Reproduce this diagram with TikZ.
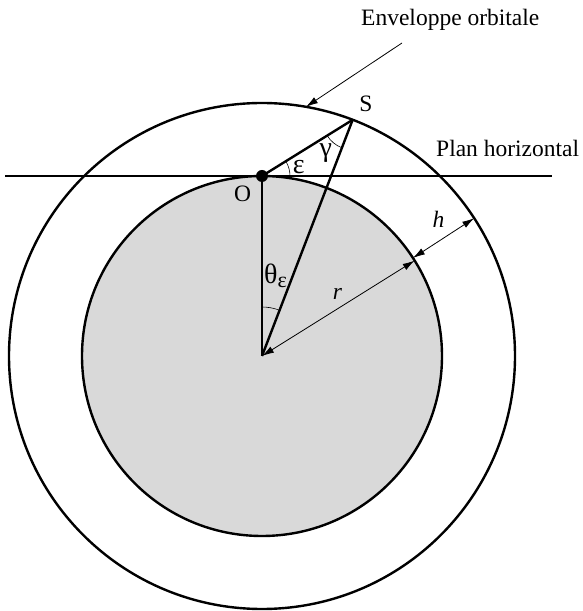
\documentclass[tikz,border=0pt]{standalone}
\usepackage{fontspec}
\setmainfont{Liberation Serif}
\usetikzlibrary{arrows.meta,angles,calc}
\definecolor{earth}{HTML}{D9D9D9}
\tikzset{
  thick line/.style={line width=2.4pt},
  thin arrow/.style={line width=0.8pt,-{Latex[length=12pt,width=7pt]}},
  dbl arrow/.style={line width=0.8pt,{Latex[length=12pt,width=7pt]}-{Latex[length=12pt,width=7pt]}},
  lbl/.style={font=\fontsize{23.5}{26}\selectfont,inner sep=0pt},
  greek/.style={font=\fontsize{28}{30}\selectfont,inner sep=0pt},
}
\begin{document}
\begin{tikzpicture}[x=1pt,y=1pt]
\useasboundingbox (0,0) rectangle (583,611);
\coordinate (C) at (262,255);
\coordinate (O) at (262,435);
\coordinate (S) at ($(C)+(69:253)$);
\coordinate (HL) at (5,435);
\coordinate (HR) at (552,435);
\coordinate (EA) at ($(C)+(80:253)$);
\coordinate (ES) at (402,568);
\coordinate (RI) at ($(C)+(32:180)$);
\coordinate (HI) at ($(C)+(33:180)$);
\coordinate (HO) at ($(C)+(33:253)$);
% earth and orbit
\draw[thick line,fill=earth] (C) circle[radius=180];
\draw[thick line] (C) circle[radius=253];
% horizontal plane
\draw[line width=1.6pt] (HL) -- (HR);
% triangle
\draw[thick line] (O) -- (C);
\draw[thick line] (O) -- (S);
\draw[thick line] (S) -- (C);
\fill (O) circle[radius=6];
% angles
\pic[draw,line width=0.6pt,angle radius=28] {angle = HR--O--S};
\pic[draw,line width=0.6pt,angle radius=30] {angle = O--S--C};
\pic[draw,line width=0.6pt,angle radius=49] {angle = S--C--O};
% arrows
\draw[dbl arrow] (C) -- (RI);
\draw[dbl arrow] (HI) -- (HO);
\draw[thin arrow] (ES) -- (EA);
% labels
\node[lbl,anchor=base west] (tEnv) at (361,585) {Enveloppe orbitale};
\node[lbl,anchor=base west] (tPlan) at (436,454.3) {Plan horizontal};
\node[lbl,anchor=base] (tS) at (366,499.5) {S};
\node[lbl,anchor=base] (tO) at (242.7,409.3) {O};
\node[greek,anchor=base] (tEps) at (298.7,437.7) {ε};
\node[greek,anchor=base] (tGam) at (325.7,454) {γ};
\node[greek,anchor=base west] (tTh) at (264,327) {θ\raisebox{-0.3ex}{\fontsize{22}{24}\selectfont ε}};
\node[lbl,anchor=base] (tR) at (337.5,311.7) {\itshape r};
\node[lbl,anchor=base] (tH) at (438.5,383) {\itshape h};
\end{tikzpicture}
\end{document}
